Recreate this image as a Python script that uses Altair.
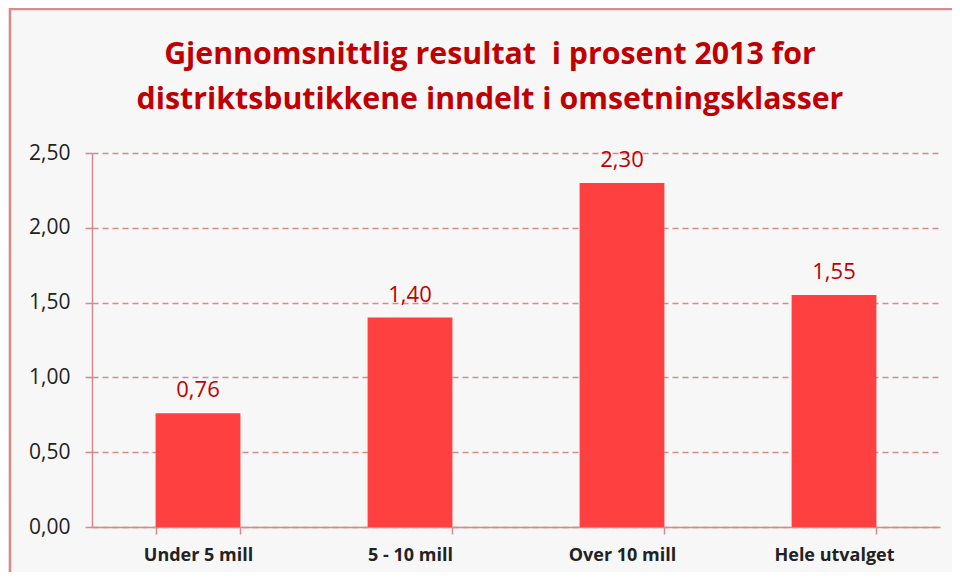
import altair as alt
import pandas as pd

categories = ["Under 5 mill", "5 - 10 mill", "Over 10 mill", "Hele utvalget"]
values = [0.76, 1.40, 2.30, 1.55]
y_ticks = [0.0, 0.5, 1.0, 1.5, 2.0, 2.5]
title_lines = ["Gjennomsnittlig resultat \u00a0i prosent 2013 for",
               "distriktsbutikkene inndelt i omsetningsklasser"]

df = pd.DataFrame({"kategori": categories, "verdi": values})

PINK = "#D38B8B"
FONT = "Open Sans"

base = alt.Chart(df).encode(
    x=alt.X("kategori:N", sort=categories,
            scale=alt.Scale(paddingInner=0.6, paddingOuter=0.3),
            axis=alt.Axis(title=None, labelAngle=0, labelFont=FONT, labelFontWeight="bold",
                          labelFontSize=18, labelColor="#222222", labelPadding=12,
                          tickBand="extent", tickSize=7, tickColor=PINK, tickWidth=1.5,
                          domainColor=PINK, domainWidth=1.5, grid=False)),
    y=alt.Y("verdi:Q", scale=alt.Scale(domain=[0, 2.5], nice=False),
            axis=alt.Axis(title=None, values=y_ticks, labelFont=FONT, labelFontSize=21,
                          labelColor="#222222", labelPadding=15,
                          labelExpr="replace(format(datum.value, '.2f'), '.', ',')",
                          tickSize=7, tickColor=PINK, tickWidth=1.5,
                          domainColor=PINK, domainWidth=1.5,
                          grid=True, gridColor=PINK, gridDash=[6, 4], gridWidth=1.5)),
)

bars = base.mark_bar(color="#FF4040")
labels = base.mark_text(baseline="bottom", dy=-11, font=FONT, fontSize=22, color="#C00000").encode(
    text="lbl:N"
).transform_calculate(lbl="replace(format(datum.verdi, '.2f'), '.', ',')")

one = pd.DataFrame({"a": [0]})
frame_left = alt.Chart(one).mark_rule(color=PINK, strokeWidth=2.5).encode(
    x=alt.value(-82), y=alt.value(-145), y2=alt.value(420))
frame_top = alt.Chart(one).mark_rule(color=PINK, strokeWidth=2.5).encode(
    y=alt.value(-144), x=alt.value(-83), x2=alt.value(860))

chart = alt.layer(frame_left, frame_top, bars, labels).properties(
    width=848, height=374,
    autosize=alt.AutoSizeParams(type="none"),
    padding={"left": 84, "top": 145, "right": 12, "bottom": 45},
    background="#F7F7F7",
    title=alt.TitleParams(text=title_lines, font=FONT, fontSize=30.3, fontWeight="bold",
                          color="#C00000", anchor="middle", dx=-26, offset=0, dy=109,
                          lineHeight=45),
).configure_view(stroke=None)

chart.save("out.html", embed_options={"renderer": "svg", "actions": False})
